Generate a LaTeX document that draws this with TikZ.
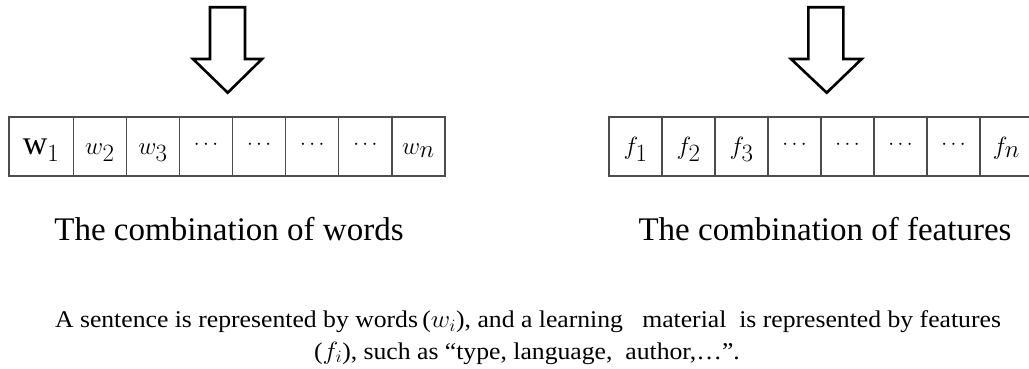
\documentclass[tikz,border=0pt]{standalone}
\usepackage{fontspec}
\setmainfont{Liberation Serif}
\newcommand{\celldots}{\raisebox{5pt}{\fontsize{22}{22}\selectfont$\cdots$}}
\begin{document}
\begin{tikzpicture}[x=1pt,y=-1pt,
  cell/.style={draw=black!70, line width=1.3pt, minimum height=59pt, outer sep=0pt,
    inner sep=0pt, text height=15pt, text depth=0pt, font=\fontsize{34}{40}\selectfont},
  bigarrow/.style={draw=black, line width=2.6pt, fill=white, line join=miter},
  caption/.style={font=\fontsize{33}{40}\selectfont, anchor=base, inner sep=0pt},
  note/.style={font=\fontsize{24}{32}\selectfont, anchor=base, inner sep=0pt}]
\useasboundingbox (0,0) rectangle (1029,369);
\clip (0,0) rectangle (1029,369);
% left arrow
\draw[bigarrow] (210,7.3) -- (245,7.3) -- (245,59) -- (262,59) -- (227.7,92.7)
  -- (193,59) -- (210,59) -- cycle;
% right arrow
\draw[bigarrow] (808.3,7.3) -- (843.3,7.3) -- (843.3,59) -- (861.7,59) -- (826.7,92.7)
  -- (791,59) -- (808.3,59) -- cycle;
% left array
\node[cell, minimum width=64.3pt] (w1) at (41.15,146.5) {$\mathrm{w}_1$};
\foreach \t [count=\i from 2] in {$w_2$,$w_3$,\celldots,\celldots,\celldots,\celldots,$w_n$}
  \node[cell, minimum width=53.1pt] (w\i) at ({73.3+53.1*(\i-1.5)},146.5) {\t};
% right array
\foreach \t [count=\i] in {$f_1$,$f_2$,$f_3$,\celldots,\celldots,\celldots,\celldots,$f_n$}
  \node[cell, minimum width=53pt] (f\i) at ({609+53*(\i-0.5)},146.5) {\t};
% captions
\node[caption] (capw) at (229,240) {The combination of words};
\node[caption] (capf) at (825,240) {The combination of features};
% note
\node[note] (note1) at (528,327.5) {\scalebox{1.07}[1]{A sentence is represented by words\,($w_i$), and a learning\ \ \ material\ \ is represented by features}};
\node[note] (note2) at (527,359) {\scalebox{1.07}[1]{($f_i$), such as “type, language,\ \ author,…”.}};
\end{tikzpicture}
\end{document}
